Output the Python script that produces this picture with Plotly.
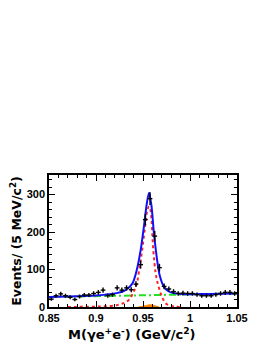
import plotly.graph_objects as go

# ---- data ----
bin_centers = [0.8525, 0.8575, 0.8625, 0.8675, 0.8725, 0.8775, 0.8825, 0.8875, 0.8925, 0.8975,
               0.9025, 0.9075, 0.9125, 0.9175, 0.9225, 0.9275, 0.9325, 0.9375, 0.9425, 0.9475,
               0.9525, 0.9575, 0.9625, 0.9675, 0.9725, 0.9775, 0.9825, 0.9875, 0.9925, 0.9975,
               1.0025, 1.0075, 1.0125, 1.0175, 1.0225, 1.0275, 1.0325, 1.0375, 1.0425, 1.0475]
counts = [21, 30, 35, 30, 26, 20, 28, 32, 32, 36,
          39, 45, 30, 33, 51, 45, 51, 46, 61, 113,
          233, 289, 189, 105, 55, 48, 41, 36, 37, 36,
          36, 33, 30, 30, 30, 33, 36, 39, 39, 36]

total_x = [0.85, 0.88, 0.90, 0.91, 0.922, 0.93, 0.935, 0.939, 0.943, 0.9476, 0.951, 0.954,
           0.9564, 0.959, 0.9615, 0.9636, 0.966, 0.968, 0.972, 0.977, 0.9823, 0.99, 1.0, 1.02, 1.05]
total_y = [27, 29, 31, 33, 37, 43, 52, 64, 95, 153, 215, 275,
           305, 270, 200, 153, 108, 82, 55, 42, 37, 35, 34, 35, 36]

signal_x = [0.87, 0.88, 0.90, 0.91, 0.92, 0.925, 0.93, 0.935, 0.94, 0.9435, 0.946, 0.949, 0.952,
            0.955, 0.9565, 0.958, 0.961, 0.9635, 0.966, 0.969, 0.972, 0.975, 0.98, 0.985, 0.99]
signal_y = [0, 0.3, 1, 2, 4, 7, 11, 19, 40, 64, 100, 150, 210,
            262, 268, 258, 150, 90, 60, 35, 18, 8, 3, 1, 0]

bkg_x = [0.85, 1.05]
bkg_y = [26.5, 36]

peak_x = [0.945, 0.95, 0.955, 0.958, 0.962, 0.967]
peak_y = [0, 2, 5, 6, 4, 0]

bin_half_width = 0.0025

x_title = "<b>M(γe<sup>+</sup>e<sup>-</sup>) (GeV/c<sup>2</sup>)</b>"
y_title = "<b>Events/ (5 MeV/c<sup>2</sup>)</b>"

fig = go.Figure()

fig.add_trace(go.Scatter(x=peak_x, y=peak_y, mode="lines", line=dict(color="#ff7f00", width=1, shape="spline"),
                         fill="tozeroy", fillcolor="#ff7f00", hoverinfo="skip"))
fig.add_trace(go.Scatter(x=bkg_x, y=bkg_y, mode="lines",
                         line=dict(color="#22e022", width=2, dash="7px,3px,2px,3px")))
fig.add_trace(go.Scatter(x=signal_x, y=signal_y, mode="lines",
                         line=dict(color="#ff2020", width=2, dash="dot", shape="spline")))
fig.add_trace(go.Scatter(x=total_x, y=total_y, mode="lines",
                         line=dict(color="#1010ff", width=2, shape="spline", smoothing=0.8)))
fig.add_trace(go.Scatter(x=bin_centers, y=counts, mode="markers",
                         marker=dict(size=1, color="black"),
                         error_x=dict(type="constant", value=bin_half_width, color="black", thickness=1.4, width=0),
                         error_y=dict(type="sqrt", color="black", thickness=1.4, width=0)))

tickfont = dict(family="Liberation Sans", size=11, color="black")

fig.update_layout(
    width=258, height=336,
    margin=dict(l=41, r=29, t=167, b=37),
    paper_bgcolor="white", plot_bgcolor="white",
    showlegend=False,
    xaxis=dict(range=[0.85, 1.05], tickvals=[0.85, 0.9, 0.95, 1.0, 1.05],
               ticktext=["<b>0.85</b>", "<b>0.9</b>", "<b>0.95</b>", "<b>1</b>", "<b>1.05</b>"],
               ticks="inside", ticklen=6, tickwidth=1.2, tickcolor="black",
               minor=dict(ticks="inside", dtick=0.01, tick0=0.85, ticklen=3, tickwidth=1, tickcolor="black"),
               showline=True, linecolor="black", linewidth=1.5, mirror="ticks",
               showgrid=False, zeroline=False, tickfont=tickfont, automargin=False),
    yaxis=dict(range=[0, 352], tickvals=[0, 100, 200, 300],
               ticktext=["<b>0</b>", "<b>100</b>", "<b>200</b>", "<b>300</b>"],
               ticks="inside", ticklen=6, tickwidth=1.2, tickcolor="black",
               minor=dict(ticks="inside", dtick=20, ticklen=3, tickwidth=1, tickcolor="black"),
               showline=True, linecolor="black", linewidth=1.5, mirror="ticks",
               showgrid=False, zeroline=False, tickfont=tickfont, automargin=False,
               title=dict(text=y_title,
                          font=dict(family="DejaVu Sans", size=12.5, color="black"), standoff=6)),
    annotations=[dict(text=x_title, xref="paper", yref="paper", x=0.44, y=0,
                      xanchor="center", yanchor="top", yshift=-17, showarrow=False,
                      font=dict(family="DejaVu Sans", size=13, color="black"))],
)

fig.write_html("out.html")
